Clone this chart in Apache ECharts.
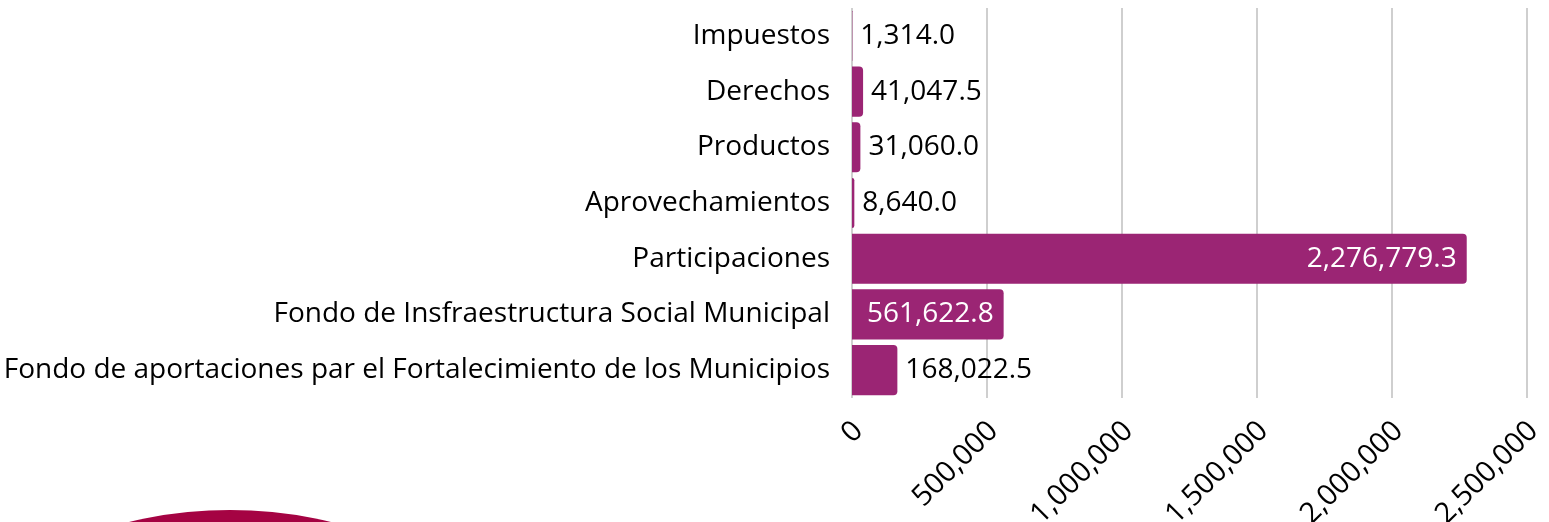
<!DOCTYPE html>
<html>
<head>
<meta charset="utf-8">
<script src="https://cdn.jsdelivr.net/npm/echarts@6/dist/echarts.min.js"></script>
<style>
  html, body { margin: 0; padding: 0; background: #fff; }
  #main { width: 1549px; height: 522px; }
</style>
</head>
<body>
<div id="main"></div>
<script>
// categorias de arriba hacia abajo
const categories = [
  'Impuestos',
  'Derechos',
  'Productos',
  'Aprovechamientos',
  'Participaciones',
  'Fondo de Insfraestructura Social Municipal',
  'Fondo de aportaciones par el Fortalecimiento de los Municipios'
];
const values = [1314.0, 41047.5, 31060.0, 8640.0, 2276779.3, 561622.8, 168022.5];
const tickValues = [0, 500000, 1000000, 1500000, 2000000, 2500000];

const barColor = '#9B2574';
const fmt = v => v.toLocaleString('en-US', { minimumFractionDigits: 1, maximumFractionDigits: 1 });

let myChart = echarts.init(document.getElementById('main'));

// etiquetas dentro de la barra para los valores grandes
const seriesData = values.map(v => {
  const inside = v > 300000;
  return {
    value: v,
    label: {
      position: inside ? 'insideRight' : 'right',
      color: inside ? '#fff' : '#000',
      distance: inside ? 10 : 8
    }
  };
});

let option = {
  animation: false,
  textStyle: { fontFamily: 'Open Sans' },
  grid: {
    left: 852, right: 22, top: 8, bottom: 124,
    containLabel: false,
    outerBoundsMode: 'none'
  },
  xAxis: {
    type: 'value',
    min: tickValues[0],
    max: tickValues[tickValues.length - 1],
    interval: 500000,
    axisLine: { show: false },
    axisTick: { show: false },
    splitLine: { lineStyle: { color: '#cfcfcf', width: 2 } },
    axisLabel: {
      rotate: 45,
      fontSize: 29,
      color: '#000',
      margin: 22,
      verticalAlign: 'top',
      lineHeight: 18,
      formatter: v => v.toLocaleString('en-US')
    }
  },
  yAxis: {
    type: 'category',
    inverse: true,
    data: categories,
    axisLine: { show: false },
    axisTick: { show: false },
    axisLabel: { fontSize: 28, color: '#000', margin: 22 }
  },
  series: [{
    type: 'bar',
    data: seriesData,
    barCategoryGap: '10%',
    itemStyle: { color: barColor, borderRadius: [0, 4, 4, 0] },
    label: {
      show: true,
      fontSize: 28,
      formatter: p => fmt(p.value)
    }
  }],
  // adorno de la esquina inferior
  graphic: [{
    type: 'circle',
    shape: { cx: 230, cy: 941, r: 431 },
    style: { fill: '#A50343' }
  }]
};
myChart.setOption(option);
</script>
</body>
</html>
